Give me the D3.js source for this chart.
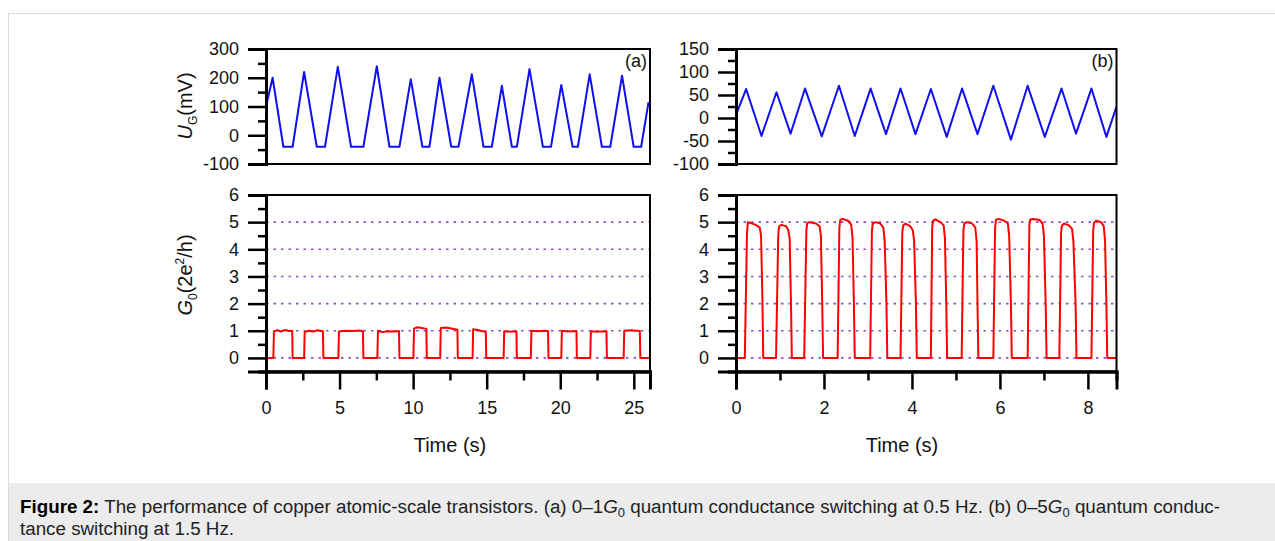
<!DOCTYPE html>
<html>
<head>
<meta charset="utf-8">
<script src="https://cdn.jsdelivr.net/npm/d3@7"></script>
<style>
	body { margin: 0; background: #fff; }
	svg { display: block; font-family: 'Liberation Sans', Arial, sans-serif; }
</style>
</head>
<body>
<div id="chart"></div>
<script>
// (a) gate voltage, 0.5 Hz  [time s, mV]
const gateA = [
	[0, 100], [0.45, 200], [1.18, -40], [1.81, -40], [2.59, 220], [3.45, -40], [4.01, -40],
	[4.88, 238], [5.78, -40], [6.62, -40], [7.53, 240], [8.39, -40], [9.07, -40], [9.84, 195],
	[10.63, -40], [11.11, -40], [11.79, 200], [12.59, -40], [13.08, -40], [13.99, 212],
	[14.78, -40], [15.35, -40], [16.03, 172], [16.71, -40], [17.05, -40], [17.91, 230],
	[18.82, -40], [19.37, -40], [20.07, 175], [20.84, -40], [21.2, -40], [22.0, 212],
	[22.83, -40], [23.4, -40], [24.2, 207], [24.99, -40], [25.5, -40], [26.0, 115],
]
// (a) conductance, 0-1 G0  [time s, G0]
const condA = [
	[0, 0], [0.5, 0], [0.54, 0.98], [0.8, 1.02], [1.0, 0.97], [1.3, 1.03], [1.55, 0.99], [1.78, 1.0], [1.81, 0],
	[2.59, 0], [2.63, 0.95], [2.9, 1.0], [3.2, 0.97], [3.5, 1.02], [3.87, 0.98], [3.9, 0],
	[4.92, 0], [4.96, 0.97], [5.4, 1.0], [5.9, 0.99], [6.3, 1.01], [6.59, 0.98], [6.62, 0],
	[7.57, 0], [7.61, 1.0], [7.9, 0.95], [8.3, 0.98], [8.7, 0.97], [9.04, 0.99], [9.07, 0],
	[10.02, 0], [10.06, 1.08], [10.3, 1.13], [10.6, 1.1], [10.9, 1.07], [10.93, 0],
	[11.84, 0], [11.88, 1.1], [12.2, 1.12], [12.6, 1.08], [13.01, 1.04], [13.04, 0],
	[14.04, 0], [14.08, 1.06], [14.4, 1.03], [14.7, 0.98], [14.94, 0.96], [14.97, 0],
	[16.15, 0], [16.19, 0.98], [16.5, 0.96], [17.02, 0.98], [17.05, 0],
	[18.0, 0], [18.04, 1.0], [18.5, 0.98], [18.9, 1.0], [19.17, 0.99], [19.2, 0],
	[20.07, 0], [20.11, 1.0], [20.5, 0.97], [21.1, 0.99], [21.13, 0],
	[22.04, 0], [22.08, 0.98], [22.5, 0.96], [23.14, 0.98], [23.17, 0],
	[24.31, 0], [24.35, 1.0], [24.8, 1.02], [25.41, 0.99], [25.44, 0], [26.1, 0],
]
// (b) gate voltage, 1.5 Hz  [time s, mV]
const gateB = [
	[0, 7], [0.23, 63], [0.58, -39], [0.92, 56], [1.24, -34], [1.57, 64], [1.95, -40],
	[2.34, 70], [2.7, -39], [3.06, 64], [3.41, -35], [3.74, 64], [4.08, -35], [4.43, 63],
	[4.79, -41], [5.14, 64], [5.49, -35], [5.85, 70], [6.25, -47], [6.63, 70], [7.02, -41],
	[7.4, 64], [7.73, -34], [8.08, 64], [8.42, -41], [8.65, 25],
]
// (b) conductance, 0-5 G0  [time s, G0]
const condB = [
	[0, 0], [0.2, 0], [0.25, 4.6], [0.27, 5.0], [0.32, 4.98], [0.45, 4.9], [0.54, 4.8], [0.57, 4.5], [0.6, 2.2], [0.62, 0],
	[0.91, 0], [0.96, 4.5], [0.98, 4.85], [1.03, 4.9], [1.14, 4.85], [1.19, 4.7], [1.22, 4.4], [1.25, 2.0], [1.27, 0],
	[1.55, 0], [1.6, 4.7], [1.62, 4.98], [1.68, 5.0], [1.82, 4.95], [1.9, 4.85], [1.93, 4.5], [1.96, 2.0], [1.98, 0],
	[2.31, 0], [2.35, 4.8], [2.37, 5.08], [2.42, 5.12], [2.55, 5.05], [2.62, 4.9], [2.65, 4.4], [2.68, 2.0], [2.7, 0],
	[3.05, 0], [3.09, 4.7], [3.11, 4.95], [3.17, 5.0], [3.28, 4.95], [3.35, 4.8], [3.38, 4.3], [3.42, 2.0], [3.44, 0],
	[3.74, 0], [3.78, 4.6], [3.8, 4.88], [3.85, 4.95], [3.96, 4.85], [4.02, 4.7], [4.05, 4.3], [4.09, 2.0], [4.11, 0],
	[4.43, 0], [4.46, 4.8], [4.48, 5.05], [4.53, 5.1], [4.65, 5.0], [4.72, 4.88], [4.75, 4.4], [4.78, 2.0], [4.8, 0],
	[5.13, 0], [5.17, 4.7], [5.19, 4.95], [5.25, 5.0], [5.37, 4.95], [5.44, 4.8], [5.47, 4.3], [5.49, 2.0], [5.51, 0],
	[5.85, 0], [5.89, 4.8], [5.91, 5.08], [5.97, 5.12], [6.1, 5.05], [6.18, 4.95], [6.21, 4.5], [6.25, 2.0], [6.27, 0],
	[6.63, 0], [6.67, 4.9], [6.69, 5.1], [6.76, 5.12], [6.9, 5.08], [6.97, 4.95], [7.0, 4.5], [7.04, 2.0], [7.06, 0],
	[7.35, 0], [7.39, 4.6], [7.41, 4.88], [7.46, 4.95], [7.57, 4.88], [7.64, 4.75], [7.67, 4.3], [7.72, 2.0], [7.74, 0],
	[8.08, 0], [8.12, 4.7], [8.14, 4.98], [8.19, 5.05], [8.3, 5.0], [8.36, 4.85], [8.39, 4.3], [8.42, 2.0], [8.44, 0], [8.65, 0],
]

const timeTicksA = [0, 5, 10, 15, 20, 25]
const timeMinorA = [2.5, 7.5, 12.5, 17.5, 22.5]
const timeTicksB = [0, 2, 4, 6, 8]
const timeMinorB = [1, 3, 5, 7]
const gateTicksA = [-100, 0, 100, 200, 300]
const gateMinorA = [-50, 50, 150, 250]
const gateTicksB = [-100, -50, 0, 50, 100, 150]
const gateMinorB = [-75, -25, 25, 75, 125]
const condTicks = [0, 1, 2, 3, 4, 5, 6]
const condMinor = [-0.5, 0.5, 1.5, 2.5, 3.5, 4.5, 5.5]
const refLevels = [0, 1, 2, 3, 4, 5]

const width = 1275
const height = 541
const font = "'Liberation Sans', Arial, sans-serif"

const svg = d3.select('#chart').append('svg')
	.attr('width', width)
	.attr('height', height)

// page frame + caption box
svg.append('line').attr('x1', 8.5).attr('x2', 8.5).attr('y1', 13).attr('y2', height)
	.attr('stroke', '#dcdcdc').attr('stroke-width', 1)
svg.append('line').attr('x1', 8).attr('x2', width).attr('y1', 13.5).attr('y2', 13.5)
	.attr('stroke', '#dcdcdc').attr('stroke-width', 1)
svg.append('rect').attr('x', 9).attr('y', 483).attr('width', width - 9).attr('height', height - 483)
	.attr('fill', '#ececec')

const capSize = 18.8
const subSize = 13
const cap1 = svg.append('text').attr('x', 20).attr('y', 513).attr('font-size', capSize).attr('fill', '#222')
cap1.append('tspan').attr('font-weight', 'bold').attr('fill', '#000').text('Figure 2:')
cap1.append('tspan').text(' The performance of copper atomic-scale transistors. (a) 0–1')
cap1.append('tspan').attr('font-style', 'italic').text('G')
cap1.append('tspan').attr('font-size', subSize).attr('dy', 4).text('0')
cap1.append('tspan').attr('dy', -4).text(' quantum conductance switching at 0.5 Hz. (b) 0–5')
cap1.append('tspan').attr('font-style', 'italic').text('G')
cap1.append('tspan').attr('font-size', subSize).attr('dy', 4).text('0')
cap1.append('tspan').attr('dy', -4).text(' quantum conduc-')
svg.append('text').attr('x', 20).attr('y', 535).attr('font-size', capSize).attr('fill', '#222')
	.text('tance switching at 1.5 Hz.')

function drawPanel(opt) {
	const x = d3.scaleLinear().domain(opt.xDomain).range([opt.left, opt.right])
	const y = d3.scaleLinear().domain(opt.yDomain).range([opt.bottom, opt.top])
	const g = svg.append('g')

	const clipId = 'clip' + opt.id
	svg.append('clipPath').attr('id', clipId).append('rect')
		.attr('x', opt.left).attr('y', opt.top)
		.attr('width', opt.right - opt.left).attr('height', opt.bottom - opt.top)

	if (opt.refs) {
		g.append('g').selectAll('line').data(opt.refs).join('line')
			.attr('x1', opt.left).attr('x2', opt.right)
			.attr('y1', d => y(d)).attr('y2', d => y(d))
			.attr('stroke', '#8a4fc9').attr('stroke-width', 1.6)
			.attr('stroke-dasharray', '2.5,5')
	}

	const line = d3.line().x(d => x(d[0])).y(d => y(d[1]))
	g.append('path').datum(opt.data)
		.attr('clip-path', `url(#${clipId})`)
		.attr('fill', 'none')
		.attr('stroke', opt.color)
		.attr('stroke-width', 2)
		.attr('stroke-linejoin', 'round')
		.attr('d', line)

	// frame
	g.append('rect')
		.attr('x', opt.left).attr('y', opt.top)
		.attr('width', opt.right - opt.left).attr('height', opt.bottom - opt.top)
		.attr('fill', 'none').attr('stroke', '#000').attr('stroke-width', 2)

	// y axis (major + minor)
	const yMajor = g.append('g').attr('transform', `translate(${opt.left},0)`)
		.call(d3.axisLeft(y).tickValues(opt.yTicks).tickSize(18).tickPadding(9).tickFormat(d => String(d)))
	const yMinor = g.append('g').attr('transform', `translate(${opt.left},0)`)
		.call(d3.axisLeft(y).tickValues(opt.yMinor).tickSize(8).tickFormat(''))
	;[yMajor, yMinor].forEach(a => {
		a.select('.domain').attr('stroke-width', 3)
		a.selectAll('.tick line').attr('stroke-width', 2.5)
	})
	yMajor.selectAll('.tick text')
		.attr('font-size', 18).attr('font-family', font).attr('fill', '#111')

	if (opt.xTicks) {
		const xMajor = g.append('g').attr('transform', `translate(0,${opt.bottom})`)
			.call(d3.axisBottom(x).tickValues(opt.xTicks).tickSize(18).tickPadding(12).tickFormat(d => String(d)))
		const xMinor = g.append('g').attr('transform', `translate(0,${opt.bottom})`)
			.call(d3.axisBottom(x).tickValues(opt.xMinor).tickSize(9).tickFormat(''))
		;[xMajor, xMinor].forEach(a => {
			a.select('.domain').attr('stroke-width', 3)
			a.selectAll('.tick line').attr('stroke-width', 2.5)
		})
		xMajor.selectAll('.tick text')
			.attr('font-size', 18).attr('font-family', font).attr('fill', '#111')
	}

	if (opt.tag) {
		g.append('text').attr('x', opt.right - 3).attr('y', opt.top + 18)
			.attr('text-anchor', 'end').attr('font-size', 18).attr('fill', '#111')
			.text(opt.tag)
	}
	return { x, y }
}

drawPanel({
	id: 'aTop', left: 266, right: 650, top: 49, bottom: 164,
	xDomain: [0, 26.1], yDomain: [-100, 300],
	yTicks: gateTicksA, yMinor: gateMinorA,
	data: gateA, color: '#1010f0', tag: '(a)',
})
drawPanel({
	id: 'aBot', left: 266, right: 650, top: 195, bottom: 371.5,
	xDomain: [0, 26.1], yDomain: [-0.5, 6],
	yTicks: condTicks, yMinor: condMinor, xTicks: timeTicksA, xMinor: timeMinorA,
	data: condA, color: '#ff0000', refs: refLevels,
})
drawPanel({
	id: 'bTop', left: 736, right: 1116.5, top: 49, bottom: 164,
	xDomain: [0, 8.65], yDomain: [-100, 150],
	yTicks: gateTicksB, yMinor: gateMinorB,
	data: gateB, color: '#1010f0', tag: '(b)',
})
drawPanel({
	id: 'bBot', left: 736, right: 1116.5, top: 195, bottom: 371.5,
	xDomain: [0, 8.65], yDomain: [-0.5, 6],
	yTicks: condTicks, yMinor: condMinor, xTicks: timeTicksB, xMinor: timeMinorB,
	data: condB, color: '#ff0000', refs: refLevels,
})

// axis titles
const titles = svg.append('g').attr('font-size', 20).attr('fill', '#111')
titles.append('text').attr('x', 450).attr('y', 452).attr('text-anchor', 'middle').text('Time (s)')
titles.append('text').attr('x', 902).attr('y', 452).attr('text-anchor', 'middle').text('Time (s)')

const ug = titles.append('text').attr('text-anchor', 'middle')
	.attr('transform', 'translate(192,106) rotate(-90)')
ug.append('tspan').attr('font-style', 'italic').text('U')
ug.append('tspan').attr('font-size', 12).attr('dy', 5).text('G')
ug.append('tspan').attr('dy', -5).text('(mV)')

const g0 = titles.append('text').attr('text-anchor', 'middle')
	.attr('transform', 'translate(192,275) rotate(-90)')
g0.append('tspan').attr('font-style', 'italic').text('G')
g0.append('tspan').attr('font-size', 12).attr('dy', 5).text('0')
g0.append('tspan').attr('dy', -5).text('(2e')
g0.append('tspan').attr('font-size', 12).attr('dy', -8).text('2')
g0.append('tspan').attr('dy', 8).text('/h)')
</script>
</body>
</html>
